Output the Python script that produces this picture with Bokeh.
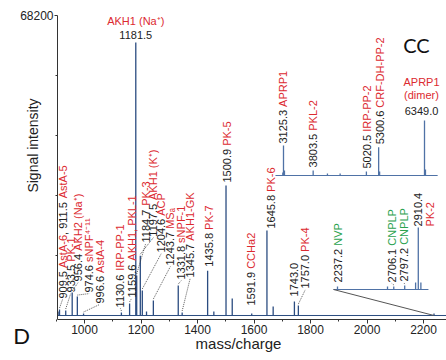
import math
from bokeh.plotting import figure
from bokeh.models import Range1d, FixedTicker, Label, LinearAxis
from bokeh.core.properties import value
from bokeh.embed import file_html
from bokeh.resources import INLINE

# ---------------- data ----------------
# main spectrum: m/z and signal intensity
main_mz = [909.5, 911.5, 933.5, 956.4, 974.6, 996.6, 1130.6, 1159.6, 1181.5, 1184.7,
           1197.5, 1204.6, 1219.5, 1243.7, 1331.8, 1345.7, 1435.8, 1457.8, 1500.9,
           1522.9, 1591.9, 1645.8, 1667.8, 1743.0, 1757.0, 2237.2]
main_int = [900, 1350, 1150, 5250, 4300, 450, 700, 2750, 62050, 9100,
            13600, 5700, 900, 3400, 6800, 700, 10200, 900, 29550,
            3850, 450, 19300, 2050, 3200, 2250, 450]

# high-mass inset (magnified)
hi_mz = [3110.0, 3125.3, 3147.3, 3803.5, 4130.0, 4420.0, 5020.5, 5300.6, 5322.6, 6349.0, 6371.0]
hi_int = [70, 680, 115, 115, 45, 45, 90, 640, 90, 1250, 135]
hi_span = [2942, 6650]

# NVP / CNPLP inset (magnified)
mid_mz = [2237.2, 2654.0, 2706.1, 2797.2, 2888.0, 2910.4, 2932.0]
mid_int = [70, 70, 70, 90, 160, 1410, 160]
mid_span = [2204, 2995]

x_ticks = [1000, 1200, 1400, 1600, 1800, 2000, 2200]
x_minor = [900, 1100, 1300, 1500, 1700, 1900, 2100]
y_ticks = [68200]
y_minor = [13640, 27280, 40920, 54560]

# ---------------- layout / style ----------------
W, H = 446, 360
RANGES = {
    "default": ((702.6, 2281.4), (-10230.0, 71609.0)),
    "hi": ((-3344.8, 6851.9), (-4205.6, 3978.3)),
    "mid": ((-571.1, 3145.5), (-1614.0, 6569.8)),
}
AX_X0, AX_X1 = 904.4, 2281.4     # x-axis extent
AX_Y0, AX_Y1 = -909.3, 68200.0   # y-axis extent

BLUE = "#2b4c80"
IBLUE = "#4f72a6"
RED = "#dc2a30"
GRN = "#2aa24e"
K = "#222222"
FONT = "Liberation Sans"
FS = 11

CW = {c: 0.556 for c in "0123456789"}
CW.update({".": 0.278, " ": 0.278, ",": 0.278, "-": 0.333, "(": 0.333, ")": 0.333,
           "A": 0.667, "C": 0.722, "D": 0.722, "F": 0.611, "G": 0.778, "H": 0.722,
           "I": 0.278, "K": 0.667, "L": 0.556, "M": 0.833, "N": 0.722, "P": 0.667,
           "R": 0.722, "S": 0.667, "V": 0.667, "a": 0.556, "s": 0.5, "t": 0.278,
           "⁺": 0.36, "⁴": 0.36, "⁻": 0.36, "¹": 0.36, "ₐ": 0.36})


def tw(s, fs=FS):
    return sum(CW.get(c, 0.556) for c in s) * fs


def ppx(rng):
    (x0, x1), (y0, y1) = RANGES[rng]
    return (x1 - x0) / W, (y1 - y0) / H


p = figure(width=W, height=H, output_backend="svg", toolbar_location=None,
           x_range=Range1d(*RANGES["default"][0]), y_range=Range1d(*RANGES["default"][1]),
           x_axis_type=None, y_axis_type=None,
           min_border_left=0, min_border_right=0, min_border_top=0, min_border_bottom=0)
p.extra_x_ranges = {"hi": Range1d(*RANGES["hi"][0]), "mid": Range1d(*RANGES["mid"][0])}
p.extra_y_ranges = {"hi": Range1d(*RANGES["hi"][1]), "mid": Range1d(*RANGES["mid"][1])}
p.outline_line_color = None
p.background_fill_color = "white"
p.border_fill_color = "white"

xaxis = LinearAxis(fixed_location=AX_Y0, bounds=(AX_X0, AX_X1),
                   ticker=FixedTicker(ticks=x_ticks, minor_ticks=x_minor))
yaxis = LinearAxis(fixed_location=AX_X0, bounds=(AX_Y0, AX_Y1),
                   ticker=FixedTicker(ticks=y_ticks, minor_ticks=y_minor))
for ax in (xaxis, yaxis):
    ax.axis_line_color = "#333333"
    ax.major_tick_line_color = "#333333"
    ax.minor_tick_line_color = "#333333"
    ax.major_tick_in = 0
    ax.minor_tick_out = 2
    ax.minor_tick_in = 0
    ax.major_label_text_font = FONT
    ax.major_label_text_font_size = "12px"
    ax.major_label_text_color = K
xaxis.major_tick_out = 4
xaxis.major_label_standoff = 2
yaxis.major_tick_out = 3
yaxis.major_label_standoff = 1
p.add_layout(xaxis, "below")
p.add_layout(yaxis, "left")

# baselines
p.segment(x0=[AX_X0], y0=[0], x1=[AX_X1], y1=[0], line_color=BLUE, line_width=1)
p.segment(x0=[hi_span[0]], y0=[0], x1=[hi_span[1]], y1=[0], line_color=IBLUE, line_width=1,
          x_range_name="hi", y_range_name="hi")
p.segment(x0=[mid_span[0]], y0=[0], x1=[mid_span[1]], y1=[0], line_color=IBLUE, line_width=1,
          x_range_name="mid", y_range_name="mid")

# peaks
p.segment(x0=main_mz, y0=[0] * len(main_mz), x1=main_mz, y1=main_int, line_color=BLUE, line_width=1.3)
p.segment(x0=hi_mz, y0=[0] * len(hi_mz), x1=hi_mz, y1=hi_int, line_color=IBLUE, line_width=1.3,
          x_range_name="hi", y_range_name="hi")
p.segment(x0=mid_mz, y0=[0] * len(mid_mz), x1=mid_mz, y1=mid_int, line_color=IBLUE, line_width=1.3,
          x_range_name="mid", y_range_name="mid")


# connector from the NVP inset to its location in the main spectrum
def to_main(xv, yv, rng):
    (x0, x1), (y0, y1) = RANGES[rng]
    (mx0, mx1), (my0, my1) = RANGES["default"]
    fx = (xv - x0) / (x1 - x0)
    fy = (yv - y0) / (y1 - y0)
    return mx0 + fx * (mx1 - mx0), my0 + fy * (my1 - my0)


cx, cy = to_main(mid_span[0], 0, "mid")
p.segment(x0=[cx], y0=[cy], x1=[mid_mz[0]], y1=[0], line_color="#555555", line_width=1)


def rkw(rng):
    return {} if rng == "default" else {"x_range_name": rng, "y_range_name": rng}


def vlabel(mz, peak, parts, dx, gap, rng="default", leader=False):
    xpp, ypp = ppx(rng)
    lx = mz + dx * xpp
    ly = peak + gap * ypp
    off = 0.0
    for txt, col in parts:
        p.text(x=[lx], y=[ly + off * ypp], text=[txt], angle=math.pi / 2,
               text_align="left", text_baseline="middle", text_color=col,
               text_font=value(FONT), text_font_size=f"{FS}px", **rkw(rng))
        off += tw(txt)
    if leader:
        p.segment(x0=[mz], y0=[peak + 1.5 * ypp], x1=[lx], y1=[ly - 1 * ypp],
                  line_color="#333333", line_width=0.8, line_dash="1 1", **rkw(rng))


def hlabel(mz, peak, lines, gap, rng="default", lh=13, dx=0):
    xpp, ypp = ppx(rng)
    for i, (txt, col) in enumerate(lines):
        p.text(x=[mz + dx * xpp], y=[peak + (gap + i * lh) * ypp], text=[txt],
               text_align="center", text_baseline="bottom", text_color=col,
               text_font=value(FONT), text_font_size=f"{FS}px", **rkw(rng))


I = dict(zip(main_mz, main_int))
vlabel(911.5, I[911.5], [("909.5 ", K), ("AstA-6", RED), (", 911.5 ", K), ("AstA-5", RED)], 3, 11, leader=True)
vlabel(933.5, I[933.5], [("933.5 ", K), ("PK-1", RED)], 5, 18, leader=True)
vlabel(956.4, I[956.4], [("956.4 ", K), ("AKH2 (Na⁺)", RED)], 6, 11, leader=True)
vlabel(974.6, I[974.6], [("974.6 ", K), ("sNPF⁴⁻¹¹", RED)], 12, 4, leader=True)
vlabel(996.6, I[996.6], [("996.6 ", K), ("AstA-4", RED)], 16, 10, leader=True)
vlabel(1130.6, I[1130.6], [("1130.6 ", K), ("IRP-PP-1", RED)], -1, 5, leader=True)
vlabel(1159.6, I[1159.6], [("1159.6 ", K), ("AKH1, PKL-1", RED)], 2, 6, leader=True)
vlabel(1184.7, I[1184.7], [("1184.7 ", K), ("PK-3", RED)], 9, 33, leader=True)
vlabel(1197.5, I[1197.5], [("1197.5 ", K), ("AKH1 (K⁺)", RED)], 13, 19, leader=True)
vlabel(1204.6, I[1204.6], [("1204.6 ", K), ("ACP", RED)], 19, 38, leader=True)
vlabel(1243.7, I[1243.7], [("1243.7 ", K), ("MSₐ", RED)], 17, 35, leader=True)
vlabel(1331.8, I[1331.8], [("1331.8 ", K), ("sNPF-1", RED)], 3, 6, leader=True)
vlabel(1345.7, I[1345.7], [("1345.7 ", K), ("AKH1-GK", RED)], 8, 35, leader=True)
vlabel(1435.8, I[1435.8], [("1435.8 ", K), ("PK-7", RED)], 1, 4)
vlabel(1500.9, I[1500.9], [("1500.9 ", K), ("PK-5", RED)], 0.5, 3)
vlabel(1591.9, I[1591.9], [("1591.9 ", K), ("CCHa2", RED)], -1, 8)
vlabel(1645.8, I[1645.8], [("1645.8 ", K), ("PK-6", RED)], 4, 2)
vlabel(1743.0, I[1743.0], [("1743.0", K)], 0, 5)
vlabel(1757.0, I[1757.0], [("1757.0 ", K), ("PK-4", RED)], 7, 17, leader=True)
hlabel(1181.5, I[1181.5], [("1181.5", K), ("AKH1 (Na⁺)", RED)], 4, lh=12)

H1 = dict(zip(hi_mz, hi_int))
vlabel(3125.3, H1[3125.3], [("3125.3 ", K), ("APRP1", RED)], 0, 2, rng="hi")
vlabel(3803.5, H1[3803.5], [("3803.5 ", K), ("PKL-2", RED)], 0, 3, rng="hi")
vlabel(5020.5, H1[5020.5], [("5020.5 ", K), ("IRP-PP-2", RED)], 1, 3, rng="hi")
vlabel(5300.6, H1[5300.6], [("5300.6 ", K), ("CRF-DH-PP-2", RED)], 1, 3, rng="hi")
hlabel(6349.0, H1[6349.0], [("6349.0", K), ("(dimer)", RED), ("APRP1", RED)], 6, rng="hi", lh=13.5, dx=-3)

M1 = dict(zip(mid_mz, mid_int))
vlabel(2237.2, M1[2237.2], [("2237.2 ", K), ("NVP", GRN)], 0, 4, rng="mid")
vlabel(2706.1, M1[2706.1], [("2706.1 ", K), ("CNPLP", GRN)], -2, 4, rng="mid", leader=True)
vlabel(2797.2, M1[2797.2], [("2797.2 ", K), ("CNPLP", GRN)], -1, 4, rng="mid", leader=True)
vlabel(2910.4, M1[2910.4], [("2910.4", K)], 0, 1, rng="mid")
vlabel(2910.4, M1[2910.4], [("PK-2", RED)], 12, 1, rng="mid")

# titles / panel letters (screen units from the bottom-left of the canvas-wide frame)
p.add_layout(Label(x=32, y=215, x_units="screen", y_units="screen", text="Signal intensity",
                   angle=math.pi / 2, text_align="center", text_baseline="middle",
                   text_font=FONT, text_font_size="14px", text_color=K))
p.add_layout(Label(x=238, y=17, x_units="screen", y_units="screen", text="mass/charge",
                   text_align="center", text_baseline="middle",
                   text_font=FONT, text_font_size="15px", text_color=K))
p.add_layout(Label(x=21, y=25, x_units="screen", y_units="screen", text="D",
                   text_align="center", text_baseline="middle",
                   text_font="Lato", text_font_size="22px", text_color="#111111"))
p.add_layout(Label(x=416, y=316, x_units="screen", y_units="screen", text="CC",
                   text_align="center", text_baseline="middle",
                   text_font="Lato", text_font_size="20px", text_color="#111111"))

open("out.html", "w").write(file_html(p, INLINE))
